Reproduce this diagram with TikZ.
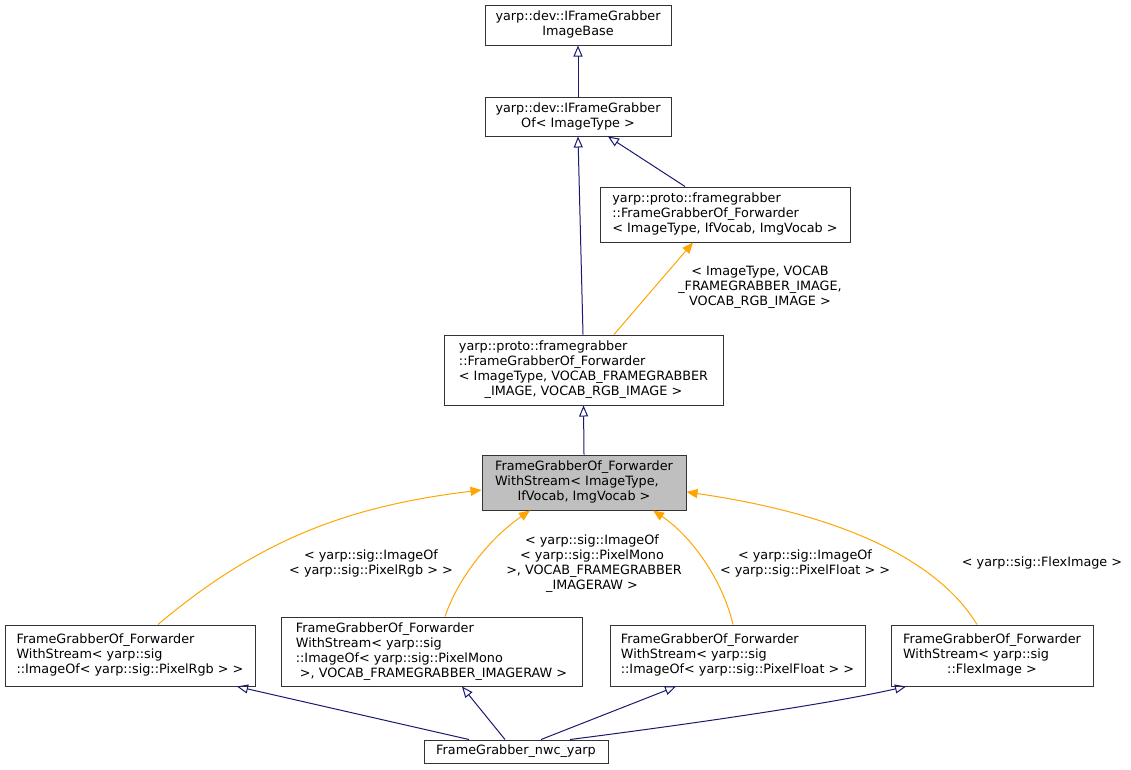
\documentclass[tikz,border=0pt]{standalone}
\usepackage{fontspec}
\setmainfont{DejaVu Sans}
\usepackage{xcolor}
\usepackage{tikz}
\usetikzlibrary{arrows.meta, calc, positioning}

\definecolor{inhblue}{HTML}{191970}
\definecolor{tmplorange}{HTML}{FFA500}
\definecolor{selfgray}{HTML}{BFBFBF}

\newcommand{\lastc}[1]{\multicolumn{1}{@{}c@{}}{#1}}

\tikzset{
  cls/.style={draw=black!80, line width=1pt, inner sep=0pt, font=\fontsize{12.8}{15}\selectfont},
  lbl/.style={inner sep=0pt, align=center, font=\fontsize{12.8}{15}\selectfont},
  inh/.style={draw=inhblue, line width=1pt, -{Triangle[open, length=11pt, width=9pt]}},
  tmpl/.style={draw=tmplorange, line width=1pt, -{Triangle[length=11pt, width=9pt]}}
}

\begin{document}
\begin{tikzpicture}[x=1pt,y=-1pt]

\useasboundingbox (0,0) rectangle (1131,769);

% base classes
\node[cls, minimum width=186pt, minimum height=40pt] (base) at (578,25)
  {\begin{tabular}{@{}l@{}}yarp::dev::IFrameGrabber\\\lastc{ImageBase}\end{tabular}};
\node[cls, minimum width=186pt, minimum height=39pt] (ifgOf) at (578,116.5)
  {\begin{tabular}{@{}l@{}}yarp::dev::IFrameGrabber\\\lastc{Of< ImageType >}\end{tabular}};
\node[cls, minimum width=250pt, minimum height=55pt] (fwdT) at (725,214.5)
  {\begin{tabular}{@{}l@{}}yarp::proto::framegrabber\\::FrameGrabberOf\_Forwarder\\\lastc{< ImageType, IfVocab, ImgVocab >}\end{tabular}};
\node[cls, minimum width=279pt, minimum height=70pt] (fwdV) at (583.5,370)
  {\begin{tabular}{@{}l@{}}yarp::proto::framegrabber\\::FrameGrabberOf\_Forwarder\\< ImageType, VOCAB\_FRAMEGRABBER\\\lastc{\_IMAGE, VOCAB\_RGB\_IMAGE >}\end{tabular}};

% the class itself
\node[cls, fill=selfgray, minimum width=204pt, minimum height=55pt] (self) at (584,482.5)
  {\begin{tabular}{@{}l@{}}FrameGrabberOf\_Forwarder\\WithStream< ImageType,\\\lastc{IfVocab, ImgVocab >}\end{tabular}};

% instantiations
\node[cls, minimum width=250pt, minimum height=61pt] (rgb) at (130,655.5)
  {\begin{tabular}{@{}l@{}}FrameGrabberOf\_Forwarder\\WithStream< yarp::sig\\\lastc{::ImageOf< yarp::sig::PixelRgb > >}\end{tabular}};
\node[cls, minimum width=301pt, minimum height=69pt] (mono) at (431.5,651.5)
  {\begin{tabular}{@{}l@{}}FrameGrabberOf\_Forwarder\\WithStream< yarp::sig\\::ImageOf< yarp::sig::PixelMono\\\lastc{\ >, VOCAB\_FRAMEGRABBER\_IMAGERAW >}\end{tabular}};
\node[cls, minimum width=255pt, minimum height=61pt] (float) at (737.5,655.5)
  {\begin{tabular}{@{}l@{}}FrameGrabberOf\_Forwarder\\WithStream< yarp::sig\\\lastc{::ImageOf< yarp::sig::PixelFloat > >}\end{tabular}};
\node[cls, minimum width=202pt, minimum height=61pt] (flex) at (992,655.5)
  {\begin{tabular}{@{}l@{}}FrameGrabberOf\_Forwarder\\WithStream< yarp::sig\\\lastc{::FlexImage >}\end{tabular}};
\node[cls, minimum width=184pt, minimum height=23pt] (nwc) at (516,751.5) {FrameGrabber\_nwc\_yarp};

% template argument labels
\node[lbl] (lblVocab) at (760,287) {< ImageType, VOCAB\\\_FRAMEGRABBER\_IMAGE,\\VOCAB\_RGB\_IMAGE >};
\node[lbl] (lblRgb) at (371,563.5) {< yarp::sig::ImageOf\\< yarp::sig::PixelRgb > >};
\node[lbl] (lblMono) at (592,563.5) {< yarp::sig::ImageOf\\< yarp::sig::PixelMono\\\ >, VOCAB\_FRAMEGRABBER\\\_IMAGERAW >};
\node[lbl] (lblFloat) at (805,563.5) {< yarp::sig::ImageOf\\< yarp::sig::PixelFloat > >};
\node[lbl] (lblFlex) at (1042,563) {< yarp::sig::FlexImage >};

% inheritance
\draw[inh] (ifgOf.north) -- (base.south);
\draw[inh] ([xshift=-0.5pt]fwdV.north) -- (ifgOf.south);
\draw[inh] ([xshift=-40pt]fwdT.north) -- ([xshift=30pt]ifgOf.south);
\draw[inh] (self.north) -- (fwdV.south);

% template instantiation
\draw[tmpl] ([xshift=30.5pt]fwdV.north) -- ([xshift=-32pt]fwdT.south);
\draw[tmpl] ([xshift=28pt]rgb.north) .. controls (258,540) and (348,506) .. ([yshift=-7.5pt]self.west);
\draw[tmpl] ([xshift=13.5pt]mono.north) .. controls (458,578) and (490,538) .. ([xshift=-54pt]self.south);
\draw[tmpl] ([xshift=-4.5pt]float.north) .. controls (722,578) and (690,535) .. ([xshift=69pt]self.south);
\draw[tmpl] ([xshift=-15pt]flex.north) .. controls (950,580) and (880,520) .. ([yshift=-9.5pt]self.east);

% derived class
\draw[inh] ([xshift=-47pt]nwc.north) -- ([xshift=107pt]rgb.south);
\draw[inh] ([xshift=-11pt]nwc.north) -- ([xshift=30.5pt]mono.south);
\draw[inh] ([xshift=25pt]nwc.north) -- ([xshift=-61.5pt]float.south);
\draw[inh] ([xshift=54pt]nwc.north) .. controls (660,728) and (820,706) .. ([xshift=-86pt]flex.south);

\end{tikzpicture}
\end{document}
